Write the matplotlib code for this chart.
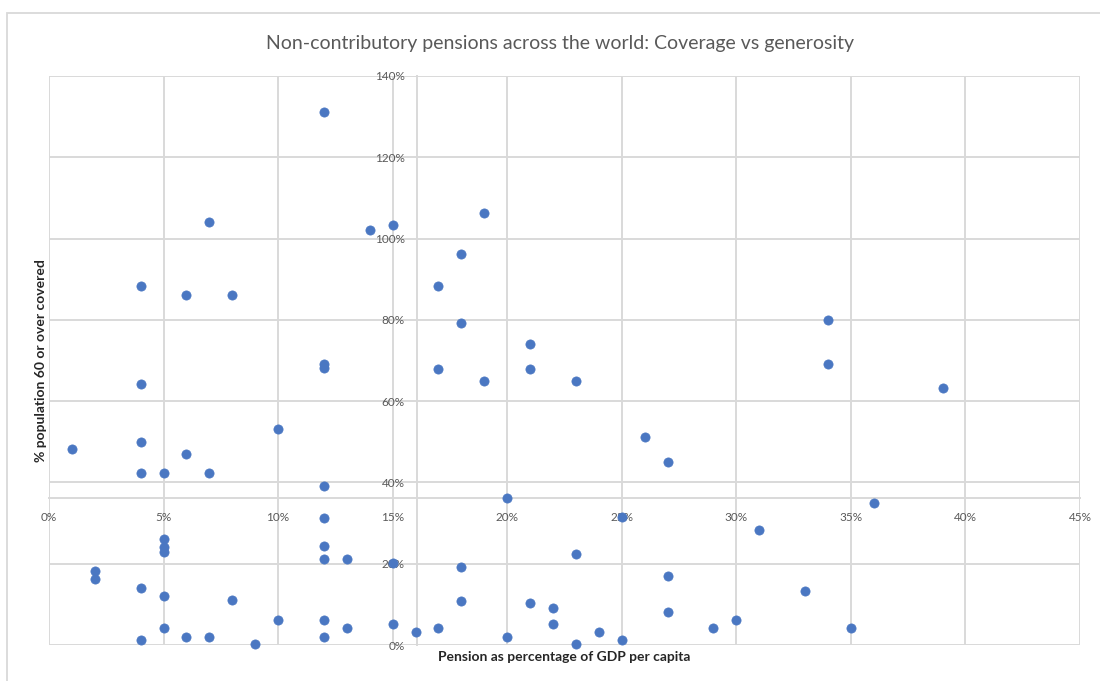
import matplotlib
matplotlib.use("Agg")
import matplotlib.pyplot as plt
from matplotlib.ticker import PercentFormatter, MultipleLocator
from matplotlib.patches import Rectangle

plt.rcParams['font.family'] = ['Lato', 'DejaVu Sans']

# Pension as share of GDP per capita (fraction)
pension_gdp = [0.12, 0.07, 0.14, 0.15, 0.19, 0.18, 0.04, 0.06, 0.08, 0.17,
               0.18, 0.34, 0.21, 0.12, 0.12, 0.17, 0.21, 0.19, 0.23, 0.34,
               0.39, 0.04, 0.10, 0.26, 0.04, 0.01, 0.06, 0.27, 0.04, 0.05,
               0.07, 0.12, 0.20, 0.36, 0.12, 0.25, 0.31, 0.05, 0.05, 0.05,
               0.12, 0.23, 0.12, 0.13, 0.15, 0.02, 0.02, 0.18, 0.27, 0.04,
               0.33, 0.05, 0.08, 0.18, 0.21, 0.22, 0.27, 0.10, 0.12, 0.30,
               0.15, 0.22, 0.05, 0.13, 0.17, 0.29, 0.35, 0.16, 0.24, 0.06,
               0.07, 0.12, 0.20, 0.04, 0.25, 0.09, 0.23]

# Share of population aged 60+ covered (fraction)
coverage = [1.311, 1.040, 1.021, 1.033, 1.062, 0.961, 0.883, 0.860, 0.860, 0.883,
            0.793, 0.800, 0.741, 0.691, 0.681, 0.680, 0.680, 0.650, 0.650, 0.691,
            0.632, 0.643, 0.531, 0.512, 0.500, 0.482, 0.471, 0.451, 0.422, 0.422,
            0.422, 0.391, 0.361, 0.350, 0.313, 0.314, 0.283, 0.261, 0.242, 0.230,
            0.243, 0.223, 0.211, 0.211, 0.202, 0.182, 0.162, 0.193, 0.171, 0.140,
            0.133, 0.121, 0.111, 0.109, 0.103, 0.092, 0.080, 0.062, 0.062, 0.062,
            0.051, 0.051, 0.043, 0.043, 0.043, 0.043, 0.043, 0.031, 0.031, 0.020,
            0.020, 0.020, 0.020, 0.012, 0.012, 0.002, 0.002]

title = "Non-contributory pensions across the world: Coverage vs generosity"
x_title = "Pension as percentage of GDP per capita"
y_title = "% population 60 or over covered"

W, H = 1100, 681
fig = plt.figure(figsize=(W / 100, H / 100), dpi=100)

# chart frame
fig.patches.append(Rectangle((7 / W, -0.05), 1.2, (H - 13) / H + 0.05,
                             transform=fig.transFigure, fill=False,
                             edgecolor='#D9D9D9', linewidth=1.3, clip_on=False))

left, right, top, bottom = 49, 1080, 76, 645
ax = fig.add_axes([left / W, (H - bottom) / H, (right - left) / W, (bottom - top) / H])

grid_col = '#D9D9D9'
ax.scatter(pension_gdp, coverage, s=44, color='#4A77C2', edgecolors='#4A77C2',
           linewidths=0.5, zorder=3, clip_on=False)

ax.set_xlim(0, 0.45)
ax.set_ylim(0, 1.40)
ax.xaxis.set_major_locator(MultipleLocator(0.05))
ax.yaxis.set_major_locator(MultipleLocator(0.20))
ax.xaxis.set_major_formatter(PercentFormatter(xmax=1, decimals=0))
ax.yaxis.set_major_formatter(PercentFormatter(xmax=1, decimals=0))

ax.grid(True, color=grid_col, linewidth=1.4, zorder=0)
for gl in ax.get_xgridlines() + ax.get_ygridlines():
    gl.set_clip_on(False)

# axes cross inside the plot area
for side in ('top', 'right'):
    ax.spines[side].set_visible(False)
ax.spines['left'].set_position(('data', 0.1607))
ax.spines['bottom'].set_position(('data', 0.362))
for side in ('left', 'bottom'):
    ax.spines[side].set_color(grid_col)
    ax.spines[side].set_linewidth(1.4)
    ax.spines[side].set_zorder(1)

ax.tick_params(axis='both', length=0, labelsize=8.5, labelcolor='#595959')
ax.tick_params(axis='y', pad=9)
ax.tick_params(axis='x', pad=10)

ax.set_xlabel(x_title, fontsize=10, fontweight='bold', color='#262626')
ax.xaxis.set_label_coords(0.4995, -0.01)
ax.set_ylabel(y_title, fontsize=10, fontweight='bold', color='#262626')
ax.yaxis.set_label_coords(-0.002, 0.5)

fig.text(560 / W, 1 - 44 / H, title, ha='center', va='center',
         fontsize=14, color='#595959')

fig.savefig('out.png', dpi=100)
